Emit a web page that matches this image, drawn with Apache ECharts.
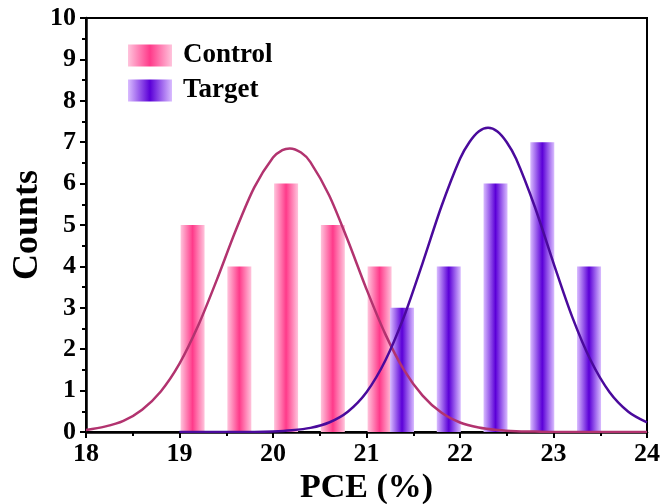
<!DOCTYPE html>
<html>
<head>
<meta charset="utf-8">
<script src="https://cdn.jsdelivr.net/npm/echarts@6/dist/echarts.min.js"></script>
<style>
  html, body { margin: 0; padding: 0; background: #fff; }
  #chart { width: 661px; height: 504px; }
</style>
</head>
<body>
<div id="chart"></div>
<script>
// histogram bins (bin centre, PCE %) and counts
const controlBins = [19.14, 19.64, 20.14, 20.64, 21.14]
const controlCounts = [5, 4, 6, 5, 4]
const targetBins = [21.38, 21.88, 22.38, 22.88, 23.38]
const targetCounts = [3, 4, 6, 7, 4]

// fitted curves
const controlFitX = [18.0, 18.2, 18.4, 18.6, 18.8, 19.0, 19.2, 19.4, 19.6, 19.8, 20.0, 20.1, 20.18, 20.3, 20.4, 20.6, 20.8, 21.0, 21.2, 21.4, 21.6, 21.8, 22.0, 22.2, 22.4, 22.6, 22.8, 23.0, 23.4, 24.0]
const controlFitY = [0.05, 0.13, 0.27, 0.54, 0.98, 1.65, 2.57, 3.68, 4.86, 5.91, 6.63, 6.81, 6.85, 6.75, 6.52, 5.72, 4.63, 3.45, 2.37, 1.50, 0.88, 0.47, 0.23, 0.11, 0.05, 0.02, 0.01, 0.0, 0.0, 0.0]
const targetFitX = [19.0, 19.6, 19.8, 20.0, 20.2, 20.4, 20.6, 20.8, 21.0, 21.2, 21.4, 21.6, 21.8, 22.0, 22.1, 22.2, 22.3, 22.4, 22.5, 22.6, 22.8, 23.0, 23.2, 23.4, 23.6, 23.8, 24.0]
const targetFitY = [0.0, 0.0, 0.0, 0.01, 0.04, 0.10, 0.23, 0.49, 0.96, 1.72, 2.78, 4.08, 5.44, 6.60, 7.00, 7.26, 7.35, 7.26, 7.00, 6.60, 5.44, 4.08, 2.78, 1.72, 0.96, 0.49, 0.23]

const font = 'Liberation Serif'
const pair = (xs, ys) => xs.map((x, i) => [x, ys[i]])
const barGrad = (edge, mid) => new echarts.graphic.LinearGradient(0, 0, 1, 0, [
  { offset: 0, color: edge },
  { offset: 0.5, color: mid },
  { offset: 1, color: edge }
])

const chart = echarts.init(document.getElementById('chart'))
const option = {
  animation: false,
  grid: {
    left: 86, right: 14, top: 18, bottom: 72,
    outerBoundsMode: 'none',
    containLabel: false,
    show: true, borderColor: '#000', borderWidth: 2
  },
  legend: {
    orient: 'vertical',
    left: 123, top: 37,
    itemWidth: 44, itemHeight: 22, itemGap: 8,
    icon: 'rect',
    data: ['Control', 'Target'],
    textStyle: { fontFamily: font, fontWeight: 'bold', fontSize: 27, color: '#000', padding: [0, 0, 0, 6] }
  },
  xAxis: {
    type: 'value',
    min: 18, max: 24, interval: 1,
    name: 'PCE (%)', nameLocation: 'middle', nameGap: 39,
    nameMoveOverlap: false,
    nameTextStyle: { fontFamily: font, fontWeight: 'bold', fontSize: 34, color: '#000' },
    axisLine: { lineStyle: { color: '#000', width: 2.5 } },
    axisTick: { length: 6, lineStyle: { color: '#000', width: 2 } },
    minorTick: { show: true, splitNumber: 2, length: 4, lineStyle: { color: '#000', width: 2 } },
    splitLine: { show: false },
    axisLabel: { margin: 9, fontFamily: font, fontWeight: 'bold', fontSize: 26, color: '#000' }
  },
  yAxis: {
    type: 'value',
    min: 0, max: 10, interval: 1,
    name: 'Counts', nameLocation: 'middle', nameGap: 40,
    nameMoveOverlap: false,
    nameTextStyle: { fontFamily: font, fontWeight: 'bold', fontSize: 36, color: '#000' },
    axisLine: { show: true, lineStyle: { color: '#000', width: 2.5 } },
    axisTick: { show: true, length: 6, lineStyle: { color: '#000', width: 2 } },
    minorTick: { show: true, splitNumber: 2, length: 4, lineStyle: { color: '#000', width: 2 } },
    splitLine: { show: false },
    axisLabel: { margin: 10, fontFamily: font, fontWeight: 'bold', fontSize: 26, color: '#000' }
  },
  series: [
    {
      name: 'Control',
      type: 'bar',
      barWidth: 24,
      barGap: '-100%',
      data: pair(controlBins, controlCounts),
      itemStyle: { color: barGrad('#ffc4dc', '#ff3a8a') }
    },
    {
      name: 'Target',
      type: 'bar',
      barWidth: 24,
      barGap: '-100%',
      data: pair(targetBins, targetCounts),
      itemStyle: { color: barGrad('#d9bcff', '#5b00d8') }
    },
    {
      name: 'Control fit',
      type: 'line',
      smooth: 0.3,
      showSymbol: false,
      z: 5,
      data: pair(controlFitX, controlFitY),
      lineStyle: { color: '#b2336f', width: 2.5 }
    },
    {
      name: 'Target fit',
      type: 'line',
      smooth: 0.3,
      showSymbol: false,
      z: 5,
      data: pair(targetFitX, targetFitY),
      lineStyle: { color: '#4a0a9c', width: 2.5 }
    }
  ]
}
chart.setOption(option)
</script>
</body>
</html>
